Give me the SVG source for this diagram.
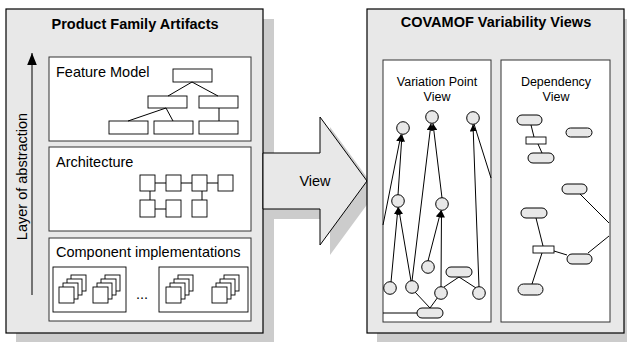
<svg xmlns="http://www.w3.org/2000/svg" width="627" height="342" viewBox="0 0 627 342">
<defs>
<style>
text{font-family:"Liberation Sans",Arial,sans-serif;fill:#000}
.t{font-size:14.5px;font-weight:bold}
.l{font-size:14.5px}
.s{font-size:12.5px}
.panel{fill:#e8e8e8;stroke:#000;stroke-width:1.2}
.shadow{fill:#cccccc;stroke:none}
.box{fill:#fff;stroke:#333;stroke-width:1}
.sq{fill:#fff;stroke:#000;stroke-width:0.9}
.ln{stroke:#000;stroke-width:1;fill:none}
.nd{fill:#e8e8e8;stroke:#000;stroke-width:1}
</style>
<marker id="ah" viewBox="0 0 10 10" refX="10" refY="5" markerWidth="7" markerHeight="7" markerUnits="userSpaceOnUse" orient="auto">
<path d="M0,0 L10,5 L0,10 z" fill="#000"/>
</marker>
<marker id="ah2" viewBox="0 0 10 10" refX="10" refY="5" markerWidth="12" markerHeight="12" markerUnits="userSpaceOnUse" orient="auto">
<path d="M0,1 L10,5 L0,9 z" fill="#000"/>
</marker>
</defs>

<g id="left-panel">
<rect class="shadow" x="16" y="19" width="258" height="324"/>
<rect class="panel" x="6" y="9" width="257" height="324"/>
<text class="t" x="135" y="29" text-anchor="middle">Product Family Artifacts</text>
</g>

<g id="abstraction-axis">
<line class="ln" x1="32" y1="295" x2="32" y2="53" marker-end="url(#ah2)"/>
<text class="l" transform="translate(27,176.5) rotate(-90)" text-anchor="middle">Layer of abstraction</text>
</g>

<g id="feature-model">
<rect class="box" x="49" y="57" width="202" height="84"/>
<text class="l" x="56" y="77">Feature Model</text>
<rect class="sq" x="173" y="69" width="39" height="13"/>
<rect class="sq" x="148" y="96" width="39" height="12"/>
<rect class="sq" x="199" y="96" width="39" height="12"/>
<rect class="sq" x="109" y="121" width="39" height="13"/>
<rect class="sq" x="154" y="121" width="39" height="13"/>
<rect class="sq" x="199" y="121" width="39" height="13"/>
<path class="ln" d="M168,96 L192,82 L218,96 M128,121 L166,108 L173,121 M219,108 L219,121"/>
</g>

<g id="architecture">
<rect class="box" x="49" y="147" width="202" height="84"/>
<text class="l" x="56" y="167">Architecture</text>
<path class="ln" d="M155,183 H166 M181,183 H192 M207,183 H218 M150,191 V200 M202,191 V200 M155,209 H166"/>
<rect class="sq" x="140" y="175" width="15" height="16"/>
<rect class="sq" x="166" y="175" width="15" height="16"/>
<rect class="sq" x="192" y="175" width="15" height="16"/>
<rect class="sq" x="218" y="175" width="15" height="16"/>
<rect class="sq" x="140" y="200" width="15" height="17"/>
<rect class="sq" x="166" y="200" width="15" height="17"/>
<rect class="sq" x="192" y="200" width="15" height="17"/>
</g>

<g id="component-implementations">
<rect class="box" x="49" y="238" width="202" height="83"/>
<text class="l" x="56" y="257">Component implementations</text>
<rect class="sq" x="53" y="267" width="73" height="45"/>
<rect class="sq" x="159" y="267" width="89" height="45"/>
<text class="l" x="142" y="299" text-anchor="middle">...</text>
<g id="stack1">
<rect class="sq" x="71" y="275" width="15" height="16"/>
<rect class="sq" x="67" y="279" width="15" height="16"/>
<rect class="sq" x="63" y="283" width="15" height="16"/>
<rect class="sq" x="59" y="287" width="15" height="16"/>
</g>
<g id="stack2">
<rect class="sq" x="105" y="275" width="15" height="16"/>
<rect class="sq" x="101" y="279" width="15" height="16"/>
<rect class="sq" x="97" y="283" width="15" height="16"/>
<rect class="sq" x="93" y="287" width="15" height="16"/>
</g>
<g id="stack3">
<rect class="sq" x="178" y="275" width="15" height="16"/>
<rect class="sq" x="174" y="279" width="15" height="16"/>
<rect class="sq" x="170" y="283" width="15" height="16"/>
<rect class="sq" x="166" y="287" width="15" height="16"/>
</g>
<g id="stack4">
<rect class="sq" x="224" y="275" width="15" height="16"/>
<rect class="sq" x="220" y="279" width="15" height="16"/>
<rect class="sq" x="216" y="283" width="15" height="16"/>
<rect class="sq" x="212" y="287" width="15" height="16"/>
</g>
</g>

<g id="view-arrow">
<path class="shadow" d="M273,163 H330 V127 L377,191 L330,255 V219 H273 z"/>
<path d="M263,153 H320 V117 L367,181 L320,245 V209 H263 z" fill="#e8e8e8" stroke="#000" stroke-width="1"/>
<text class="l" x="315" y="186" text-anchor="middle">View</text>
</g>

<g id="right-panel">
<rect class="shadow" x="377" y="19" width="258" height="324"/>
<rect class="panel" x="367" y="9" width="257" height="324"/>
<text class="t" x="496" y="27" text-anchor="middle">COVAMOF Variability Views</text>
</g>

<g id="variation-point-view">
<rect class="box" x="383" y="60" width="108" height="262"/>
<text class="s" x="437" y="86" text-anchor="middle">Variation Point</text>
<text class="s" x="437" y="101" text-anchor="middle">View</text>
</g>

<g id="dependency-view">
<rect class="box" x="501" y="60" width="109" height="262"/>
<text class="s" x="556" y="86" text-anchor="middle">Dependency</text>
<text class="s" x="556" y="101" text-anchor="middle">View</text>
</g>

<g id="connectors">
<line class="ln" x1="383" y1="225" x2="401" y2="134.5" marker-end="url(#ah)"/>
<line class="ln" x1="398" y1="195" x2="402" y2="134.5" marker-end="url(#ah)"/>
<line class="ln" x1="412" y1="281" x2="431" y2="123.5" marker-end="url(#ah)"/>
<line class="ln" x1="442" y1="198" x2="433" y2="123.5" marker-end="url(#ah)"/>
<line class="ln" x1="479" y1="287" x2="473" y2="124.5" marker-end="url(#ah)"/>
<line class="ln" x1="491" y1="178" x2="474" y2="124"/>
<line class="ln" x1="391" y1="282" x2="398" y2="207.5" marker-end="url(#ah)"/>
<line class="ln" x1="411" y1="281" x2="398.5" y2="207.5" marker-end="url(#ah)"/>
<line class="ln" x1="428" y1="261" x2="441" y2="210.5" marker-end="url(#ah)"/>
<line class="ln" x1="441" y1="287" x2="441.5" y2="210.5" marker-end="url(#ah)"/>
<path class="ln" d="M444,287 L459,277 L476,288"/>
<path class="ln" d="M415,292 L430,308 L438,297"/>
<line class="ln" x1="383" y1="313" x2="417" y2="313"/>
<line class="ln" x1="531" y1="125" x2="534" y2="137"/>
<line class="ln" x1="538" y1="144" x2="542" y2="153"/>
<line class="ln" x1="580" y1="194" x2="609" y2="223"/>
<line class="ln" x1="609" y1="236" x2="588" y2="253"/>
<line class="ln" x1="536" y1="218" x2="543" y2="246"/>
<line class="ln" x1="554" y1="251" x2="567" y2="255"/>
<line class="ln" x1="542" y1="253" x2="532" y2="284"/>
</g>

<g id="vp-nodes">
<circle class="nd" cx="403" cy="128" r="6.3"/>
<circle class="nd" cx="432" cy="117" r="6.3"/>
<circle class="nd" cx="473" cy="118" r="6.3"/>
<circle class="nd" cx="398" cy="201" r="6.3"/>
<circle class="nd" cx="442" cy="204" r="6.3"/>
<circle class="nd" cx="428" cy="267" r="6.3"/>
<circle class="nd" cx="390" cy="288" r="6.3"/>
<circle class="nd" cx="412" cy="287" r="6.3"/>
<circle class="nd" cx="441" cy="293" r="6.3"/>
<circle class="nd" cx="479" cy="293" r="6.3"/>
<rect class="nd" x="446" y="267" width="26" height="10" rx="5"/>
<rect class="nd" x="417" y="308" width="26" height="10" rx="5"/>
</g>

<g id="dep-nodes">
<rect class="nd" x="517" y="115" width="25" height="10" rx="5"/>
<rect class="sq" x="526" y="137" width="20" height="7"/>
<rect class="nd" x="528" y="153" width="26" height="10" rx="5"/>
<rect class="nd" x="566" y="128" width="26" height="9" rx="4.5"/>
<rect class="nd" x="562" y="184" width="25" height="10" rx="5"/>
<rect class="nd" x="521" y="208" width="26" height="10" rx="5"/>
<rect class="sq" x="533" y="246" width="21" height="7"/>
<rect class="nd" x="567" y="254" width="25" height="10" rx="5"/>
<rect class="nd" x="518" y="284" width="25" height="11" rx="5.5"/>
</g>
</svg>
